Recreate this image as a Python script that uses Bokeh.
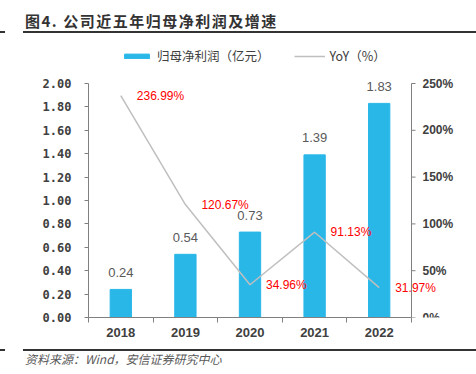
from bokeh.plotting import figure
from bokeh.models import (Range1d, FixedTicker, PrintfTickFormatter,
                          ColumnDataSource, Legend, LegendItem, Div)
from bokeh.layouts import column
from bokeh.embed import file_html
from bokeh.resources import INLINE
from bokeh.core.properties import value

years = ["2018", "2019", "2020", "2021", "2022"]
profit = [0.24, 0.54, 0.73, 1.39, 1.83]
yoy = [236.99, 120.67, 34.96, 91.13, 31.97]
profit_labels = ["0.24", "0.54", "0.73", "1.39", "1.83"]
yoy_labels = ["236.99%", "120.67%", "34.96%", "91.13%", "31.97%"]
left_ticks = [0.0, 0.2, 0.4, 0.6, 0.8, 1.0, 1.2, 1.4, 1.6, 1.8, 2.0]
right_ticks = [0, 50, 100, 150, 200, 250]
right_tick_labels = ["0%", "50%", "100%", "150%", "200%", "250%"]
title_text = "图4. 公司近五年归母净利润及增速"
source_text = "资料来源：Wind，安信证券研究中心"
bar_name = "归母净利润（亿元）"
line_name = "YoY（%）"

n = len(years)
left_max = 2.0
right_max = 250.0

# layout (pixels inside the figure)
W, H = 476, 315
border_left, border_bottom = 88, 32
axis_top_px = 49           # where 2.00 / 250% sit, from figure top
plot_w_px = 323            # width of the category area
frame_h = H - border_bottom
frame_w = W - border_left
axis_h_px = frame_h - axis_top_px
scale_y = frame_h / axis_h_px
scale_x = frame_w / plot_w_px

pos = [i + 0.5 for i in range(n)]
src = ColumnDataSource(dict(x=pos, profit=profit, yoy=yoy,
                            pl=profit_labels, yl=yoy_labels))
rsrc = ColumnDataSource(dict(x=[n] * len(right_ticks), y=right_ticks,
                             t=right_tick_labels))

p = figure(width=W, height=H, output_backend="svg", toolbar_location=None,
           x_range=Range1d(0, n * scale_x),
           y_range=Range1d(0, left_max * scale_y),
           min_border_left=border_left, min_border_right=0, min_border_top=0,
           min_border_bottom=border_bottom, margin=0)
p.outline_line_color = None
p.grid.grid_line_color = None
p.background_fill_color = "white"
p.border_fill_color = "white"
p.extra_y_ranges = {"yoy": Range1d(0, right_max * scale_y)}

axis_color = "#808080"
lab_color = "#404040"

# bottom axis
xa = p.xaxis[0]
xa.bounds = (0, n)
xa.ticker = FixedTicker(ticks=pos, minor_ticks=list(range(n + 1)))
xa.major_label_overrides = {pv: y for pv, y in zip(pos, years)}
xa.major_tick_out = 0
xa.major_tick_in = 0
xa.minor_tick_out = 5
xa.minor_tick_in = 0
xa.minor_tick_line_color = axis_color
xa.axis_line_color = axis_color
xa.major_label_standoff = 5
xa.major_label_text_font = "Liberation Sans"
xa.major_label_text_font_style = "bold"
xa.major_label_text_font_size = "13px"
xa.major_label_text_color = lab_color

# left axis
ya = p.yaxis[0]
ya.bounds = (0, left_max)
ya.ticker = FixedTicker(ticks=left_ticks)
ya.formatter = PrintfTickFormatter(format="%.2f")
ya.major_tick_out = 4
ya.major_tick_in = 0
ya.minor_tick_out = 0
ya.minor_tick_in = 0
ya.axis_line_color = axis_color
ya.major_tick_line_color = axis_color
ya.major_label_standoff = 13
ya.major_label_text_font = "DejaVu Sans Mono"
ya.major_label_text_font_style = "bold"
ya.major_label_text_font_size = "12px"
ya.major_label_text_color = lab_color

# right axis (drawn on the YoY scale)
p.segment(x0=[n], y0=[0], x1=[n], y1=[right_max], y_range_name="yoy",
          line_color=axis_color, line_width=1)
p.ray(x="x", y="y", source=rsrc, y_range_name="yoy", length=4,
      length_units="screen", angle=0, line_color=axis_color, line_width=1)
p.text(x="x", y="y", text="t", source=rsrc, y_range_name="yoy",
       x_offset=11, text_align="left", text_baseline="middle",
       text_color=lab_color, text_font=value("Liberation Sans"),
       text_font_style="bold", text_font_size="12px")

bar_color = "#29B7E8"
bars = p.vbar(x="x", top="profit", width=0.33, source=src,
              fill_color=bar_color, line_color=bar_color)
line = p.line(x="x", y="yoy", source=src, y_range_name="yoy",
              line_color="#BFBFBF", line_width=1.5)

p.text(x="x", y="profit", text="pl", source=src, text_align="center",
       text_baseline="middle", y_offset=-17, text_color="#595959",
       text_font=value("Liberation Sans"), text_font_size="13px")
p.text(x="x", y="yoy", text="yl", source=src, y_range_name="yoy",
       text_align="left", text_baseline="middle", x_offset=16,
       text_color="#FF0000", text_font=value("Liberation Sans"),
       text_font_size="12px")

legend = Legend(items=[LegendItem(label=bar_name, renderers=[bars]),
                       LegendItem(label=line_name, renderers=[line])],
                orientation="horizontal", location=(33, 252),
                glyph_width=31, glyph_height=6, label_height=6,
                label_standoff=5, spacing=24, padding=0, margin=0,
                border_line_color=None, background_fill_alpha=0,
                label_text_font="Noto Sans CJK SC",
                label_text_font_size="12.5px",
                label_text_color=lab_color)
p.add_layout(legend, "center")

rule = "position:absolute;height:2px;background:#333333;"
title = Div(width=W, height=34, margin=0, text=(
    '<div style="position:relative;width:476px;height:34px;">'
    '<div style="' + rule + 'left:0px;top:31px;width:5px;"></div>'
    '<div style="' + rule + 'left:23px;top:31px;width:453px;"></div>'
    '<div style="position:absolute;left:25px;top:12px;line-height:18px;'
    'font-family:\'Noto Sans CJK SC\';font-weight:bold;font-size:15px;'
    'letter-spacing:1.5px;color:#333333;white-space:nowrap;">'
    + title_text + '</div></div>'))
source = Div(width=W, height=25, margin=0, text=(
    '<div style="position:relative;width:476px;height:25px;">'
    '<div style="' + rule + 'left:0px;top:0px;width:5px;"></div>'
    '<div style="' + rule + 'left:23px;top:0px;width:453px;"></div>'
    '<div style="position:absolute;left:25px;top:2px;line-height:16px;'
    'font-family:\'Noto Sans CJK SC\';font-style:italic;font-size:12px;'
    'color:#595959;white-space:nowrap;">'
    + source_text + '</div></div>'))

layout = column(title, p, source, spacing=0, margin=0)
open("out.html", "w").write(file_html(layout, INLINE))
